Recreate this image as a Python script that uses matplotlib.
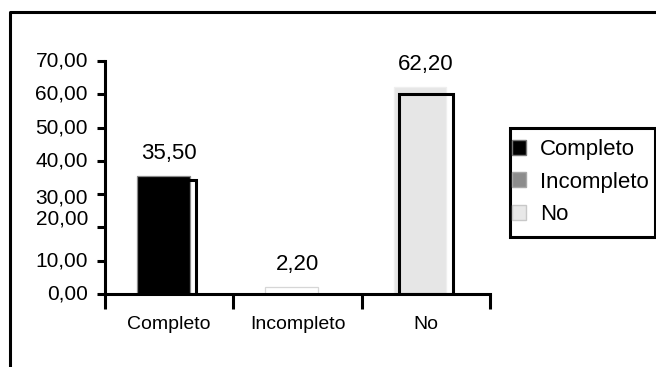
import numpy as np
import matplotlib
matplotlib.use("Agg")
import matplotlib.pyplot as plt
from matplotlib.patches import Patch, Rectangle
from matplotlib.lines import Line2D
from matplotlib.transforms import ScaledTranslation

plt.rcParams['font.family'] = ['Liberation Sans', 'DejaVu Sans']

# ---- data ----
categories = ['Completo', 'Incompleto', 'No']
percent = [35.5, 2.2, 62.2]
yticks = [0, 10, 20, 30, 40, 50, 60, 70]
ytick_labels = ['0,00', '10,00', '20,00', '30,00', '40,00', '50,00', '60,00', '70,00']

# ---- styles ----
fill_colors = ['#000000', '#ffffff', '#e6e6e6']
fill_edges = ['#8a8a8a', '#d6d6d6', '#efefef']
outline_edges = ['black', 'none', 'black']
legend_faces = ['#000000', '#8c8c8c', '#e8e8e8']
legend_edges = ['#777777', '#a8a8a8', '#c8c8c8']

W, H = 656, 367
fig = plt.figure(figsize=(W / 100, H / 100), dpi=100)


def fx(px):
    return px / W


def fy(py):
    return 1 - py / H


LW = 2.2

# main plotting area
ax = fig.add_axes([fx(105), fy(294), (490 - 105) / W, (294 - 61) / H])
ax.set_xlim(-0.5, 2.5)
ax.set_ylim(0, 70)
ax.patch.set_visible(False)
for s in ('top', 'right'):
    ax.spines[s].set_visible(False)
for s in ('left', 'bottom'):
    ax.spines[s].set_linewidth(LW)

x = np.arange(len(categories))

# filled bars
ax.bar(x - 0.045, percent, width=0.41, color=fill_colors,
       edgecolor=fill_edges, linewidth=0.9, zorder=2)

# outlined frames drawn on an overlay axis
ax2 = fig.add_axes(ax.get_position(), sharex=ax)
ax2.set_ylim(0, 72.5)
ax2.patch.set_visible(False)
ax2.axis('off')
ax2.bar(x, percent, width=0.42, facecolor='none',
        edgecolor=outline_edges, linewidth=LW, zorder=3)

# y ticks with manually placed labels
ax.set_yticks(yticks)
ax.set_yticklabels([])
ax.tick_params(axis='y', direction='out', length=6, width=LW)
label_nudge = {'30,00': -4, '20,00': 8}
for v, lab in zip(yticks, ytick_labels):
    dy = label_nudge.get(lab, 0)
    tr = ax.get_yaxis_transform() + ScaledTranslation(-17 / 100, dy / 100, fig.dpi_scale_trans)
    ax.text(0, v, lab, transform=tr, ha='right', va='center', fontsize=15)

# x axis: category labels with separator ticks
ax.set_xticks(x)
ax.set_xticklabels(categories, fontsize=14)
ax.set_xticks(np.arange(-0.5, len(categories)), minor=True)
ax.tick_params(axis='x', which='major', length=0, pad=16)
ax.tick_params(axis='x', which='minor', direction='out', length=11, width=LW)

# value labels
for xi, v in zip(x, percent):
    ax.annotate(f'{v:.2f}'.replace('.', ','), (xi, v), xytext=(0, 12),
                textcoords='offset points', ha='center', va='baseline', fontsize=16)

# legend
handles = [Patch(facecolor=f, edgecolor=e, linewidth=1.0) for f, e in zip(legend_faces, legend_edges)]
fig.legend(handles, categories, loc='upper left', bbox_to_anchor=(fx(512), fy(139)),
           frameon=False, fontsize=16, handlelength=0.64, handleheight=0.64,
           handletextpad=0.62, labelspacing=0.52, borderpad=0, borderaxespad=0)
fig.add_artist(Rectangle((fx(510), fy(237)), (655 - 510) / W, (237 - 128) / H,
                         transform=fig.transFigure, fill=False, lw=LW, ec='black'))

# outer frame
fig.add_artist(Line2D([fx(10), fx(10), 1.01], [-0.01, fy(12), fy(12)],
                      transform=fig.transFigure, lw=LW, color='black'))

fig.savefig('out.png', dpi=100)
